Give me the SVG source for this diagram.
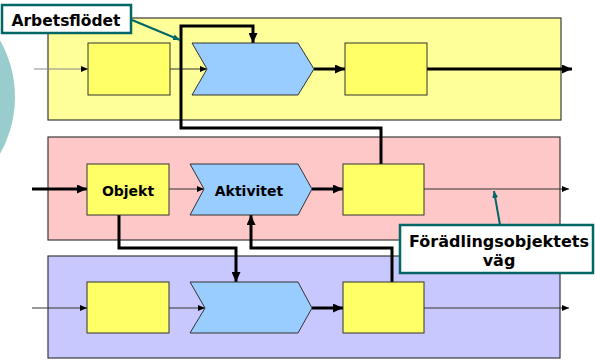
<svg xmlns="http://www.w3.org/2000/svg" width="595" height="360" viewBox="0 0 595 360">
  <defs>
    <style>
      .band { stroke: #3a3a3a; stroke-width: 1.2; }
      .box { fill: #FFFF66; stroke: #333333; stroke-width: 1; }
      .act { fill: #99CCFF; stroke: #333333; stroke-width: 1; }
      .thin { fill: none; stroke: #333333; stroke-width: 1; marker-end: url(#arrowSmall); }
      .thick { fill: none; stroke: #000000; stroke-width: 3; }
      .thickArrow { marker-end: url(#arrowBig); }
      .label { font-family: "DejaVu Sans", Verdana, sans-serif; font-weight: bold; fill: #000000; }
      .callout { fill: #FFFFFF; stroke: #006666; stroke-width: 2.5; }
      .pointer { fill: none; stroke: #006666; stroke-width: 2; marker-end: url(#arrowTeal); }
    </style>
    <marker id="arrowSmall" markerUnits="userSpaceOnUse" markerWidth="7" markerHeight="6" refX="7" refY="3" orient="auto">
      <path d="M0,0 L7,3 L0,6 z" fill="#000000"/>
    </marker>
    <marker id="arrowBig" markerUnits="userSpaceOnUse" markerWidth="10" markerHeight="9" refX="10" refY="4.5" orient="auto">
      <path d="M0,0 L10,4.5 L0,9 z" fill="#000000"/>
    </marker>
    <marker id="arrowTeal" markerUnits="userSpaceOnUse" markerWidth="7" markerHeight="6" refX="7" refY="3" orient="auto">
      <path d="M0,0 L7,3 L0,6 z" fill="#006666"/>
    </marker>
  </defs>

  <rect width="595" height="360" fill="#FFFFFF"/>

  <!-- decorative circle at the left edge -->
  <circle cx="-100" cy="97" r="115" fill="#99CCCC"/>

  <!-- swimlane bands -->
  <g id="lanes">
    <rect id="lane-top" class="band" x="48" y="18" width="513" height="102" fill="#FFFF99"/>
    <rect id="lane-middle" class="band" x="48" y="137" width="512" height="103" fill="#FFC8C8"/>
    <rect id="lane-bottom" class="band" x="48" y="256" width="512" height="102" fill="#C8C8FF"/>
  </g>

  <!-- connectors -->
  <g id="connectors">
    <!-- top lane -->
    <line x1="34" y1="69" x2="88" y2="69" stroke="#888888" stroke-width="1" marker-end="url(#arrowSmall)"/>
    <line class="thin" x1="170" y1="69" x2="207" y2="69"/>
    <line class="thick thickArrow" x1="314" y1="69" x2="345" y2="69"/>
    <line class="thick thickArrow" x1="427" y1="69" x2="572" y2="69"/>
    <!-- work flow loop from middle lane back up to the top activity -->
    <polyline class="thick thickArrow" points="381,164 381,128 181,128 181,26 253,26 253,43"/>

    <!-- middle lane -->
    <line class="thick thickArrow" x1="32" y1="189" x2="87" y2="189"/>
    <line class="thin" x1="169" y1="189" x2="204" y2="189"/>
    <line class="thick thickArrow" x1="312" y1="189" x2="343" y2="189"/>
    <line class="thin" x1="424" y1="189" x2="569" y2="189"/>

    <!-- links between middle and bottom lanes -->
    <polyline class="thick thickArrow" points="119,215 119,248 236,248 236,282"/>
    <polyline class="thick thickArrow" points="392,282 392,248 251,248 251,215"/>

    <!-- bottom lane -->
    <line class="thin" x1="32" y1="308" x2="87" y2="308"/>
    <line class="thin" x1="169" y1="308" x2="205" y2="308"/>
    <line class="thick thickArrow" x1="312" y1="308" x2="343" y2="308"/>
    <line class="thin" x1="424" y1="308" x2="569" y2="308"/>
  </g>

  <!-- top lane nodes -->
  <g id="top-object-in">
    <rect class="box" x="88" y="43" width="82" height="52"/>
  </g>
  <g id="top-activity">
    <polygon class="act" points="192,43 298,43 314,69 298,95 192,95 207,69"/>
  </g>
  <g id="top-object-out">
    <rect class="box" x="345" y="43" width="82" height="52"/>
  </g>

  <!-- middle lane nodes -->
  <g id="objekt">
    <rect class="box" x="87" y="164" width="82" height="51"/>
    <text class="label" x="128" y="196" font-size="14" text-anchor="middle">Objekt</text>
  </g>
  <g id="aktivitet">
    <polygon class="act" points="190,164 298,164 312,189 298,215 190,215 204,189"/>
    <text class="label" x="249" y="196" font-size="14" text-anchor="middle">Aktivitet</text>
  </g>
  <g id="middle-object-out">
    <rect class="box" x="343" y="164" width="81" height="51"/>
  </g>

  <!-- bottom lane nodes -->
  <g id="bottom-object-in">
    <rect class="box" x="87" y="282" width="82" height="51"/>
  </g>
  <g id="bottom-activity">
    <polygon class="act" points="190,282 298,282 312,308 298,333 190,333 205,308"/>
  </g>
  <g id="bottom-object-out">
    <rect class="box" x="343" y="282" width="81" height="51"/>
  </g>

  <!-- callouts -->
  <g id="callout-arbetsflodet">
    <line class="pointer" x1="132" y1="20" x2="180" y2="40"/>
    <rect class="callout" x="2" y="5" width="129" height="28"/>
    <text class="label" x="66" y="26" font-size="15.5" text-anchor="middle">Arbetsflödet</text>
  </g>
  <g id="callout-foradling">
    <line class="pointer" x1="500" y1="225" x2="494" y2="191"/>
    <rect class="callout" x="400" y="225" width="193" height="48"/>
    <text class="label" x="499" y="247" font-size="16" text-anchor="middle">Förädlingsobjektets</text>
    <text class="label" x="499" y="266" font-size="16" text-anchor="middle">väg</text>
  </g>
</svg>
